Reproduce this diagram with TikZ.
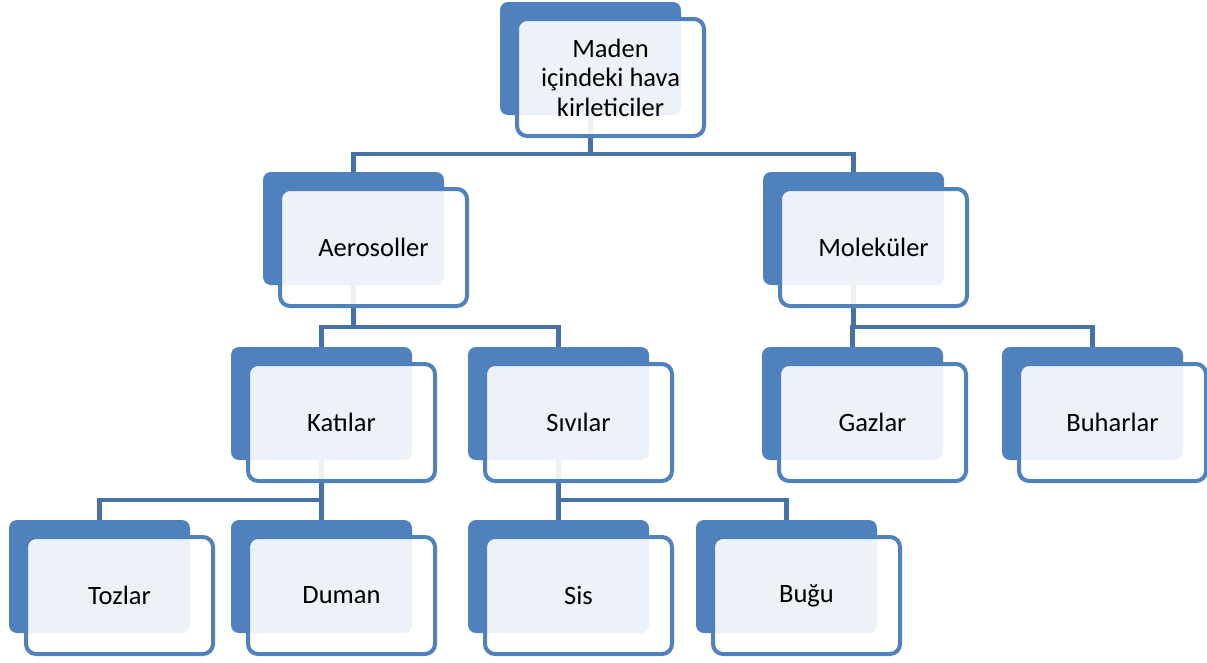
\documentclass[tikz,border=0pt]{standalone}
\usepackage{fontspec}
\setmainfont{Carlito}
\usetikzlibrary{backgrounds}
\definecolor{boxblue}{HTML}{4F81BD}
\definecolor{connblue}{HTML}{4672A8}
\tikzset{
  backbox/.style={rectangle, rounded corners=8pt, fill=boxblue, draw=none,
    minimum width=181pt, minimum height=113pt, inner sep=0pt, outer sep=0pt, anchor=north west},
  frontbox/.style={rectangle, rounded corners=10pt, fill=white, fill opacity=0.9, text opacity=1,
    draw=boxblue, line width=4pt, minimum width=187pt, minimum height=117pt,
    inner sep=0pt, outer sep=0pt, anchor=north west, align=center,
    font=\fontsize{26.5}{29.5}\selectfont},
  conn/.style={draw=connblue, line width=4.5pt}
}
\newcommand\pairbox[4]{%
  \node[backbox] (#1B) at (#2,#3) {};
  \node[frontbox] (#1) at (#2+17,#3+17) {#4};}
\begin{document}
\begin{tikzpicture}[x=1pt,y=-1pt]
\useasboundingbox (0,0) rectangle (1207,662);
\pairbox{root}{500}{2}{Maden\\içindeki hava\\kirleticiler}
\pairbox{aero}{263}{172}{Aerosoller}
\pairbox{mol}{763}{172}{Moleküler}
\pairbox{kat}{231}{347}{Katılar}
\pairbox{siv}{468}{347}{Sıvılar}
\pairbox{gaz}{762}{347}{Gazlar}
\pairbox{buh}{1002}{347}{Buharlar}
\pairbox{toz}{9}{520}{Tozlar}
\pairbox{dum}{231}{520}{Duman}
\pairbox{sis}{468}{520}{Sis}
\pairbox{bug}{696}{520}{Buğu}
\begin{scope}[on background layer]
  \draw[conn] (rootB.south) -- ++(0,39) coordinate (rb) -| (aeroB.north);
  \draw[conn] (rb) -| (molB.north);
  \draw[conn] (aeroB.south) -- ++(0,42) coordinate (ab) -| (katB.north);
  \draw[conn] (ab) -| (sivB.north);
  \draw[conn] (molB.south) -- ++(0,42) coordinate (mb) -| (gazB.north);
  \draw[conn] (mb) -| (buhB.north);
  \draw[conn] (katB.south) -- ++(0,40) coordinate (kb) -| (tozB.north);
  \draw[conn] (kb) -| (dumB.north);
  \draw[conn] (sivB.south) -- ++(0,40) coordinate (sb) -| (sisB.north);
  \draw[conn] (sb) -| (bugB.north);
\end{scope}
\end{tikzpicture}
\end{document}
